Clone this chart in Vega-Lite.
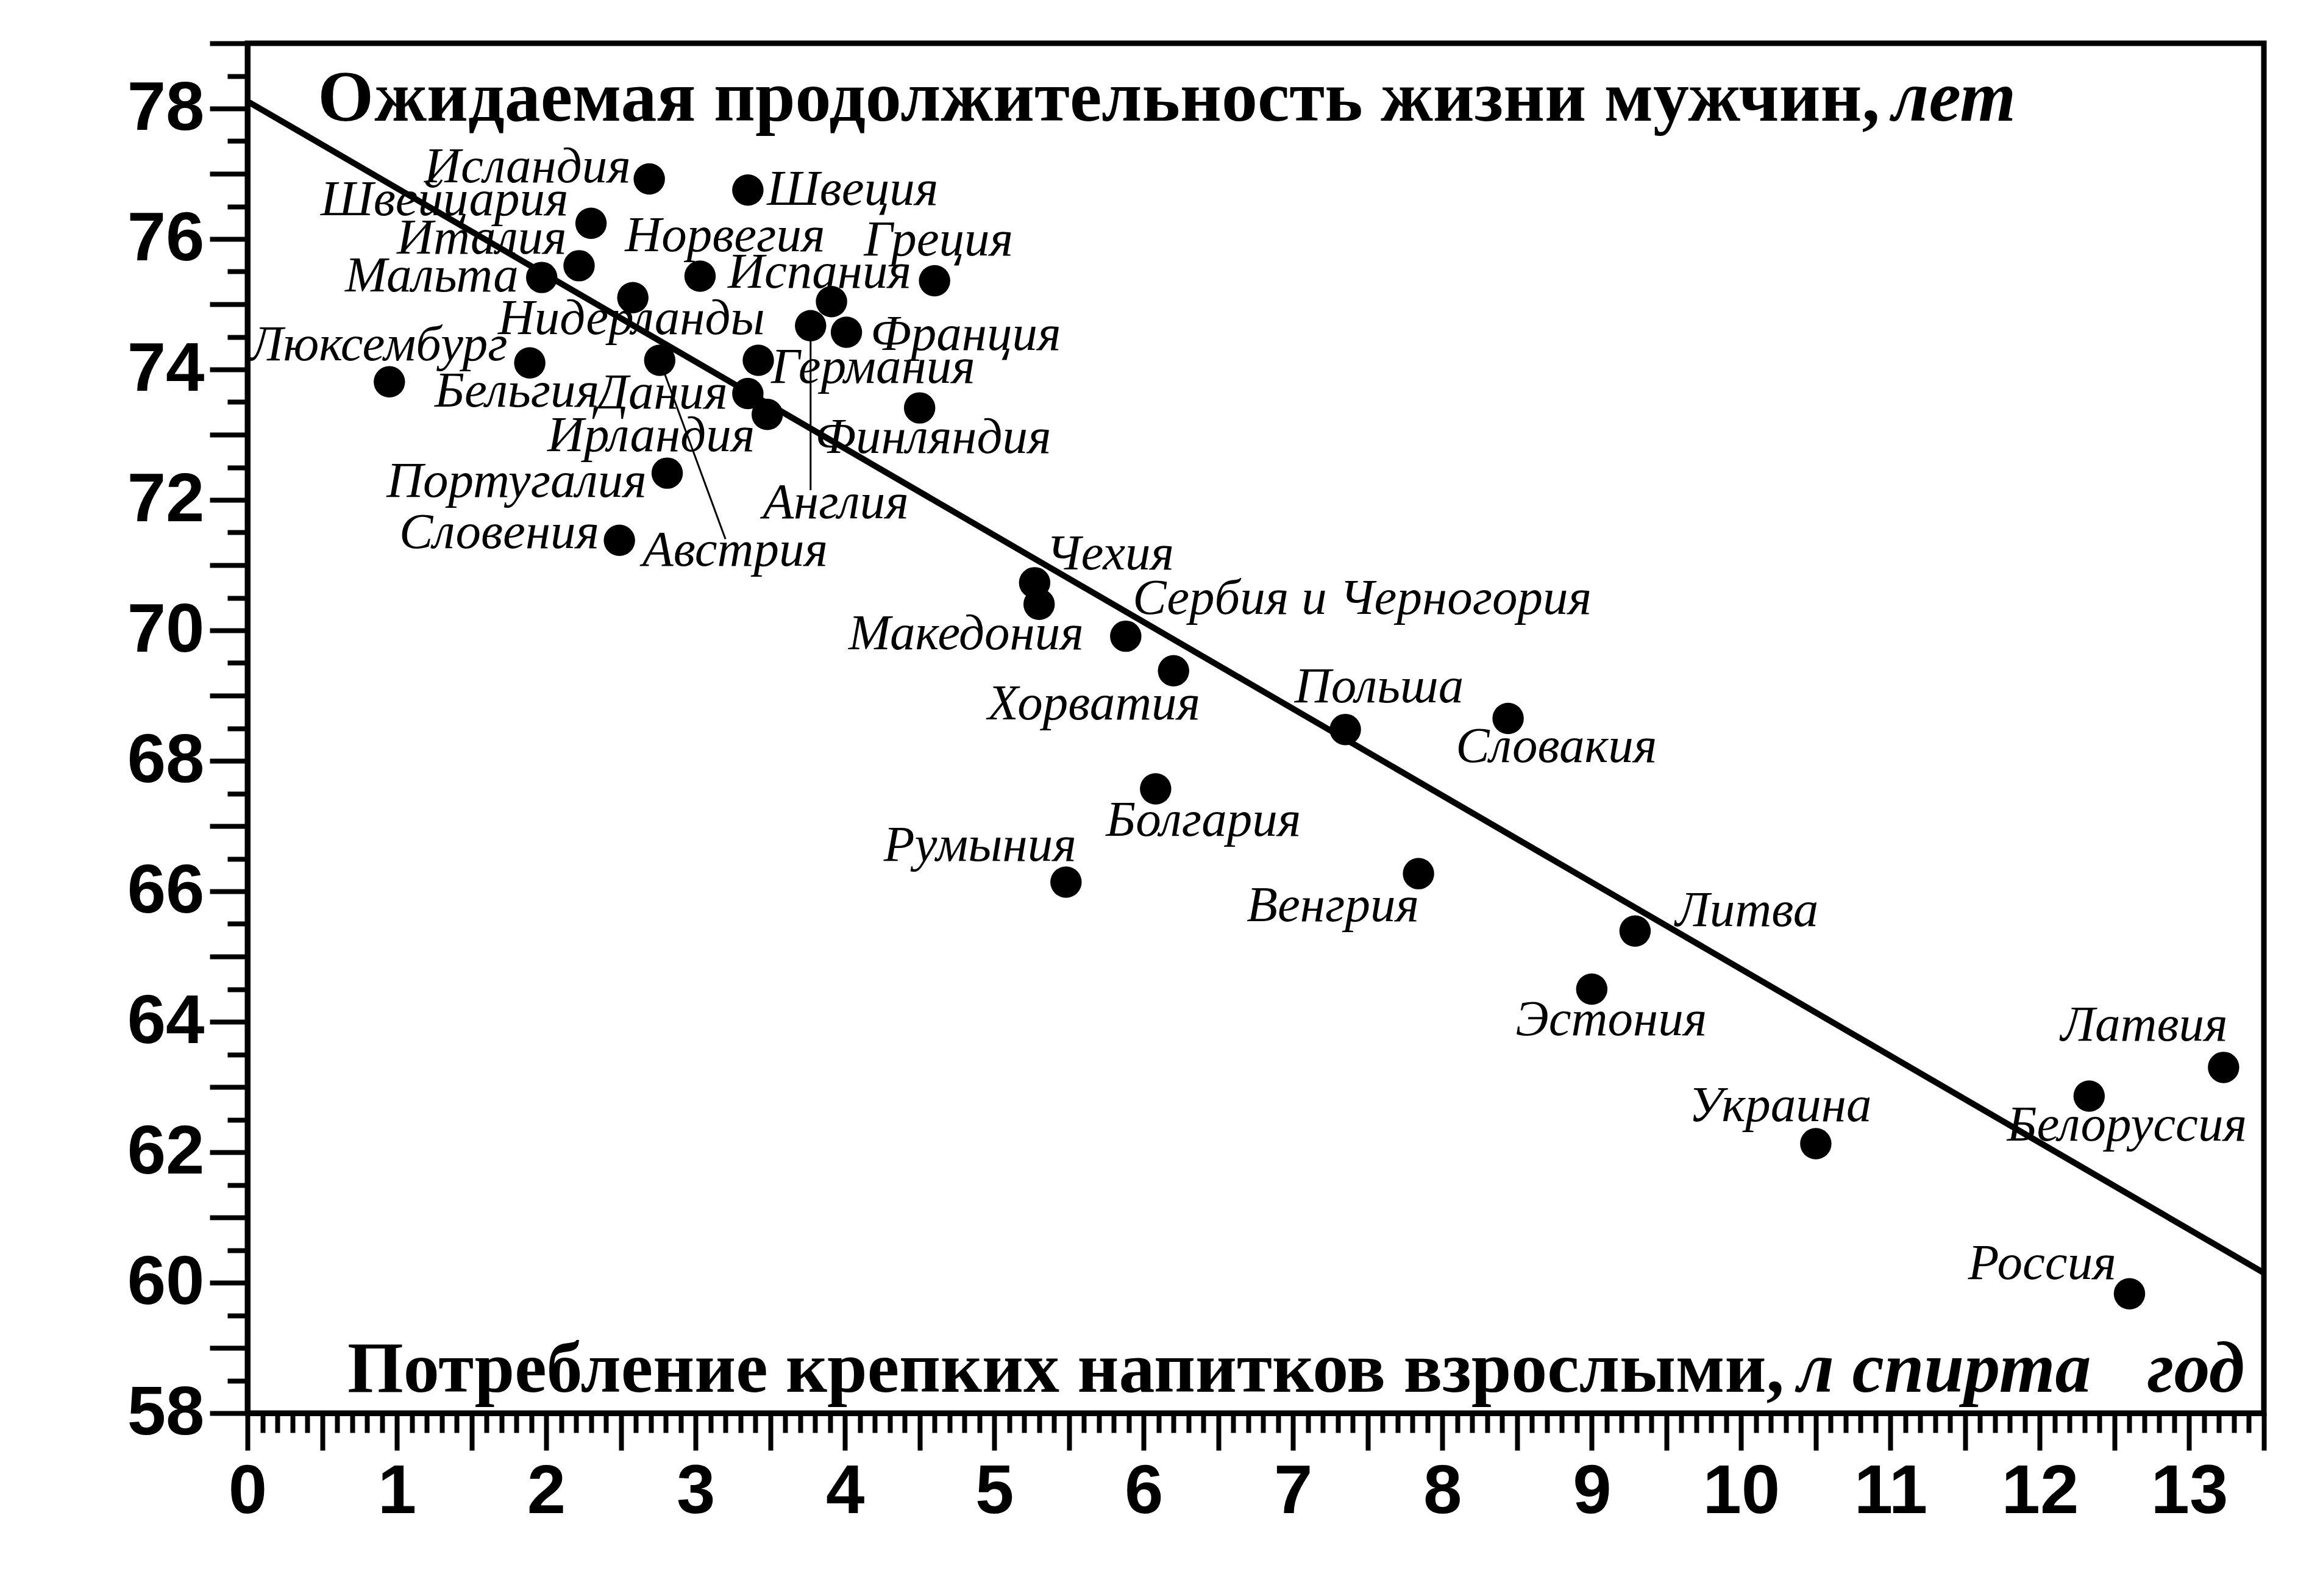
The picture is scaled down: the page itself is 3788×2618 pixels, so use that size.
{
  "$schema": "https://vega.github.io/schema/vega-lite/v6.json",
  "width": 3308,
  "height": 2247,
  "autosize": {"type": "none"},
  "padding": {"left": 406, "top": 71, "right": 74, "bottom": 300},
  "background": "white",
  "config": {"view": {"stroke": "black", "strokeWidth": 9}},
  "datasets": {
    "countries": [
      {"country": "Исландия", "x": 2.69, "y": 76.92, "label_x": 1.184, "label_y": 76.87},
      {"country": "Швеция", "x": 3.35, "y": 76.75, "label_x": 3.478, "label_y": 76.52},
      {"country": "Швейцария", "x": 2.30, "y": 76.24, "label_x": 0.49, "label_y": 76.36},
      {"country": "Италия", "x": 2.22, "y": 75.59, "label_x": 1.0, "label_y": 75.78},
      {"country": "Мальта", "x": 1.97, "y": 75.41, "label_x": 0.653, "label_y": 75.20},
      {"country": "Норвегия", "x": 3.03, "y": 75.43, "label_x": 2.527, "label_y": 75.81},
      {"country": "Нидерланды", "x": 2.58, "y": 75.10, "label_x": 1.677, "label_y": 74.54},
      {"country": "Испания", "x": 3.91, "y": 75.04, "label_x": 3.216, "label_y": 75.25},
      {"country": "Греция", "x": 4.60, "y": 75.36, "label_x": 4.127, "label_y": 75.75},
      {"country": "Англия", "x": 3.77, "y": 74.67, "label_x": 3.45, "label_y": 71.72},
      {"country": "Франция", "x": 4.01, "y": 74.57, "label_x": 4.171, "label_y": 74.30},
      {"country": "Германия", "x": 3.42, "y": 74.14, "label_x": 3.506, "label_y": 73.79},
      {"country": "Люксембург", "x": 0.95, "y": 73.81, "label_x": 0.01, "label_y": 74.14},
      {"country": "Бельгия", "x": 1.89, "y": 74.10, "label_x": 1.253, "label_y": 73.43},
      {"country": "Австрия", "x": 2.76, "y": 74.14, "label_x": 2.645, "label_y": 70.99},
      {"country": "Дания", "x": 3.35, "y": 73.63, "label_x": 2.335, "label_y": 73.40},
      {"country": "Ирландия", "x": 3.48, "y": 73.31, "label_x": 2.008, "label_y": 72.75},
      {"country": "Финляндия", "x": 4.50, "y": 73.41, "label_x": 3.80, "label_y": 72.72},
      {"country": "Португалия", "x": 2.81, "y": 72.41, "label_x": 0.931, "label_y": 72.05},
      {"country": "Словения", "x": 2.49, "y": 71.38, "label_x": 1.016, "label_y": 71.26},
      {"country": "Чехия", "x": 5.27, "y": 70.73, "label_x": 5.347, "label_y": 70.93},
      {"country": "Македония", "x": 5.30, "y": 70.40, "label_x": 4.024, "label_y": 69.71},
      {"country": "Сербия и Черногория", "x": 5.88, "y": 69.91, "label_x": 5.927, "label_y": 70.25},
      {"country": "Хорватия", "x": 6.20, "y": 69.38, "label_x": 4.955, "label_y": 68.64},
      {"country": "Польша", "x": 7.35, "y": 68.48, "label_x": 7.01, "label_y": 68.90},
      {"country": "Словакия", "x": 8.44, "y": 68.65, "label_x": 8.09, "label_y": 67.98},
      {"country": "Болгария", "x": 6.08, "y": 67.57, "label_x": 5.747, "label_y": 66.85},
      {"country": "Румыния", "x": 5.48, "y": 66.14, "label_x": 4.26, "label_y": 66.47},
      {"country": "Венгрия", "x": 7.84, "y": 66.27, "label_x": 6.69, "label_y": 65.54},
      {"country": "Литва", "x": 9.29, "y": 65.39, "label_x": 9.56, "label_y": 65.47},
      {"country": "Эстония", "x": 9.00, "y": 64.50, "label_x": 8.49, "label_y": 63.79},
      {"country": "Украина", "x": 10.50, "y": 62.13, "label_x": 9.65, "label_y": 62.48},
      {"country": "Белоруссия", "x": 12.33, "y": 62.86, "label_x": 11.78, "label_y": 62.18},
      {"country": "Латвия", "x": 13.23, "y": 63.30, "label_x": 12.14, "label_y": 63.71},
      {"country": "Россия", "x": 12.60, "y": 59.83, "label_x": 11.52, "label_y": 60.06}
    ],
    "trend": [
      {"x": 0, "y": 78.11, "x2": 13.5, "y2": 60.15}
    ],
    "leaders": [
      {"country": "Австрия", "x": 2.76, "y": 74.14, "x2": 3.20, "y2": 71.40},
      {"country": "Англия", "x": 3.77, "y": 74.67, "x2": 3.77, "y2": 72.15}
    ]
  },
  "layer": [
    {
      "data": {"name": "trend"},
      "mark": {"type": "rule", "color": "black", "strokeWidth": 10},
      "encoding": {
        "x": {
          "field": "x", "type": "quantitative",
          "scale": {"domain": [0, 13.5], "nice": false, "zero": false},
          "axis": {
            "title": null, "tickCount": 135, "grid": false,
            "domainColor": "black", "domainWidth": 9,
            "tickColor": "black", "tickWidth": 8,
            "tickSize": {"condition": {"test": "abs(datum.value*2 - round(datum.value*2)) < 0.001", "value": 61}, "value": 32},
            "labelExpr": "abs(datum.value - round(datum.value)) < 0.001 ? format(datum.value, 'd') : ''",
            "labelFont": "Liberation Sans", "labelFontWeight": "bold", "labelFontSize": 114,
            "labelColor": "black", "labelPadding": 12, "labelOverlap": false, "labelFlush": false, "labelBound": false
          }
        },
        "y": {
          "field": "y", "type": "quantitative",
          "scale": {"domain": [58, 79], "nice": false, "zero": false},
          "axis": {
            "title": null, "tickCount": 42, "grid": false,
            "domainColor": "black", "domainWidth": 9,
            "tickColor": "black", "tickWidth": 8,
            "tickSize": {"condition": {"test": "abs(datum.value - round(datum.value)) < 0.001", "value": 62}, "value": 33},
            "labelExpr": "abs(datum.value/2 - round(datum.value/2)) < 0.001 ? format(datum.value, 'd') : ''",
            "labelFont": "Liberation Sans", "labelFontWeight": "bold", "labelFontSize": 114,
            "labelColor": "black", "labelPadding": 9, "labelOverlap": false, "labelFlush": false, "labelBound": false
          }
        },
        "x2": {"field": "x2"},
        "y2": {"field": "y2"}
      }
    },
    {
      "data": {"name": "leaders"},
      "mark": {"type": "rule", "color": "black", "strokeWidth": 3},
      "encoding": {
        "x": {"field": "x", "type": "quantitative", "axis": {"title": null}},
        "y": {"field": "y", "type": "quantitative", "axis": {"title": null}},
        "x2": {"field": "x2"},
        "y2": {"field": "y2"}
      }
    },
    {
      "data": {"name": "countries"},
      "mark": {"type": "circle", "color": "black", "opacity": 1, "size": 2650},
      "encoding": {
        "x": {"field": "x", "type": "quantitative", "axis": {"title": null}},
        "y": {"field": "y", "type": "quantitative", "axis": {"title": null}}
      }
    },
    {
      "data": {"name": "countries"},
      "mark": {"type": "text", "align": "left", "baseline": "alphabetic", "font": "Liberation Serif", "fontStyle": "italic", "fontSize": 83, "color": "black"},
      "encoding": {
        "x": {"field": "label_x", "type": "quantitative", "axis": {"title": null}},
        "y": {"field": "label_y", "type": "quantitative", "axis": {"title": null}},
        "text": {"field": "country"}
      }
    },
    {
      "data": {"values": [{"text": "Ожидаемая продолжительность жизни мужчин,", "tx": 0.47, "ty": 77.81}, {"text": "Потребление крепких напитков взрослыми,", "tx": 0.669, "ty": 58.33}]},
      "mark": {"type": "text", "align": "left", "baseline": "alphabetic", "font": "Liberation Serif", "fontWeight": "bold", "fontSize": 118, "color": "black"},
      "encoding": {
        "x": {"field": "tx", "type": "quantitative", "axis": {"title": null}},
        "y": {"field": "ty", "type": "quantitative", "axis": {"title": null}},
        "text": {"field": "text"}
      }
    },
    {
      "data": {"values": [{"text": "лет", "tx": 11.01, "ty": 77.81}, {"text": "л спирта", "tx": 10.376, "ty": 58.33}, {"text": "год", "tx": 12.72, "ty": 58.33}]},
      "mark": {"type": "text", "align": "left", "baseline": "alphabetic", "font": "Liberation Serif", "fontWeight": "bold", "fontStyle": "italic", "fontSize": 118, "color": "black"},
      "encoding": {
        "x": {"field": "tx", "type": "quantitative", "axis": {"title": null}},
        "y": {"field": "ty", "type": "quantitative", "axis": {"title": null}},
        "text": {"field": "text"}
      }
    }
  ]
}
